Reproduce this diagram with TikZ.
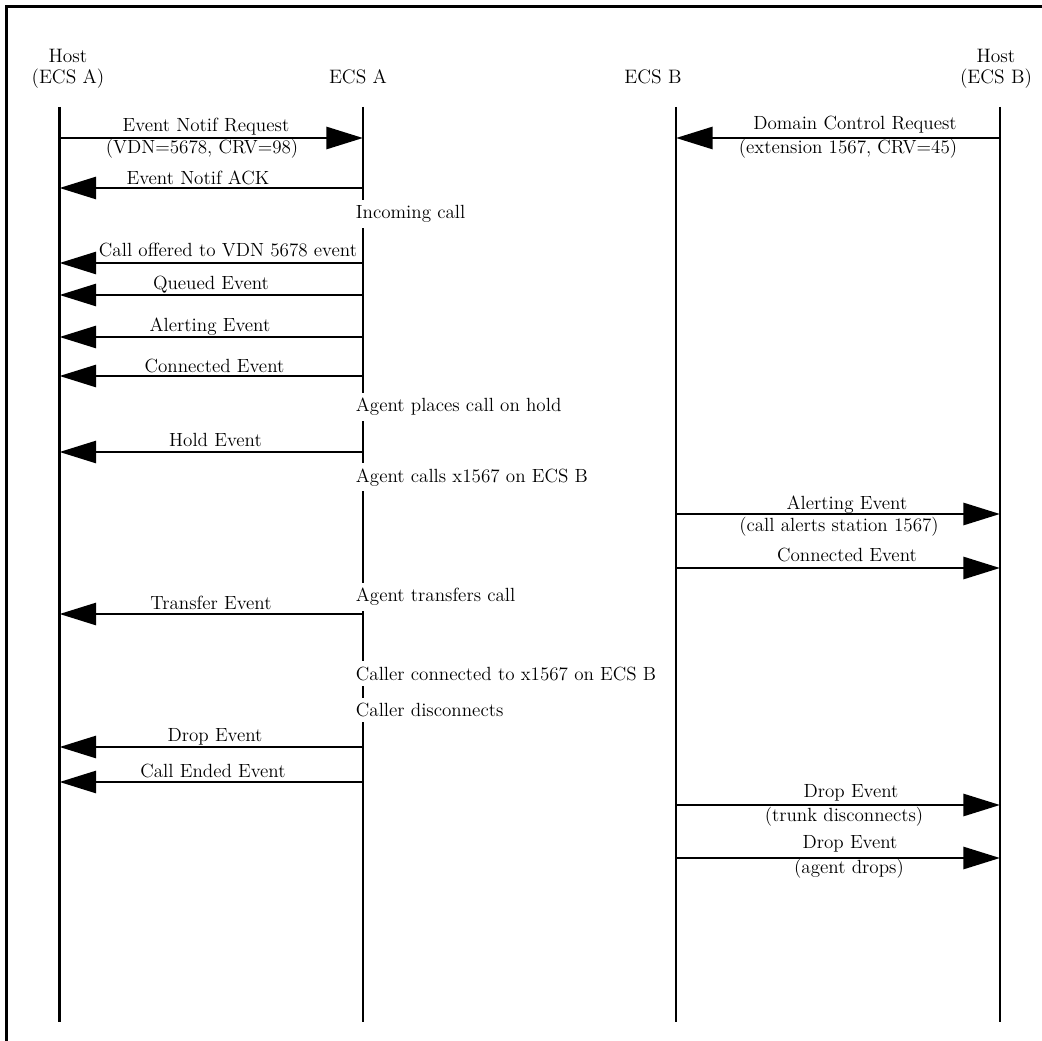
\documentclass[tikz,border=0pt]{standalone}
\usetikzlibrary{arrows.meta}

\tikzset{
  lifeline/.style={line width=2.2pt},
  msg/.style={line width=2.2pt, -{Triangle[length=27.5pt,width=16.5pt]}},
  lbl/.style={anchor=base, inner sep=0pt, font=\fontsize{14.3}{16.5}\selectfont},
  note/.style={anchor=base west, fill=white, inner xsep=2pt, inner ysep=4pt, font=\fontsize{14.3}{16.5}\selectfont},
  head/.style={anchor=base, inner sep=0pt, font=\fontsize{14.6}{16.5}\selectfont}
}

\begin{document}
\begin{tikzpicture}[x=0.75pt, y=-0.75pt]

    \useasboundingbox (0,0) rectangle (1042,1041);

    % 1. Cornice esterna (solo lato sinistro e lato superiore)
    \draw[line width=2.2pt] (6.5,1041) -- (6.5,6.5) -- (1042,6.5);

    % 2. Intestazioni delle quattro colonne
    \node[head] (hostAtop) at (68,63) {Host};
    \node[head] (hostAbot) at (68,84) {(ECS A)};
    \node[head] (ecsAhead) at (358,84) {ECS A};
    \node[head] (ecsBhead) at (653,84) {ECS B};
    \node[head] (hostBtop) at (996,63) {Host};
    \node[head] (hostBbot) at (996,84) {(ECS B)};

    % 3. Linee di vita verticali
    \coordinate (hostA) at (59.5,107);
    \coordinate (ecsA) at (363,107);
    \coordinate (ecsB) at (676,107);
    \coordinate (hostB) at (1000,107);
    \coordinate (end) at (0,1022);
    \draw[lifeline] (hostA) -- (hostA |- end);
    \draw[lifeline] (ecsA) -- (ecsA |- end);
    \draw[lifeline] (ecsB) -- (ecsB |- end);
    \draw[lifeline] (hostB) -- (hostB |- end);

    % 4. Note sulla linea di ECS A (interrompono la linea)
    \node[note] (n1) at (353,219) {Incoming call};
    \node[note] (n2) at (353,411.5) {Agent places call on hold};
    \node[note] (n3) at (353,482) {Agent calls x1567 on ECS B};
    \node[note] (n4) at (353,601.5) {Agent transfers call};
    \node[note] (n5) at (353,680) {Caller connected to x1567 on ECS B};
    \node[note] (n6) at (353,716.5) {Caller disconnects};

    % 5. Quote dei messaggi
    \coordinate (r1) at (0,138);
    \coordinate (r2) at (0,188);
    \coordinate (r3) at (0,263);
    \coordinate (r4) at (0,295);
    \coordinate (r5) at (0,337);
    \coordinate (r6) at (0,376);
    \coordinate (r7) at (0,452);
    \coordinate (r8) at (0,614);
    \coordinate (r9) at (0,747);
    \coordinate (r10) at (0,782);
    \coordinate (r11) at (0,514);
    \coordinate (r12) at (0,568);
    \coordinate (r13) at (0,805);
    \coordinate (r14) at (0,858);

    % 6. Messaggi tra Host (ECS A) e ECS A
    \draw[msg] (hostA |- r1) -- (ecsA |- r1);
    \node[lbl] (m1) at (206,132) {Event Notif Request};
    \node[lbl] (m1b) at (202,154) {(VDN=5678, CRV=98)};

    \draw[msg] (ecsA |- r2) -- (hostA |- r2);
    \node[lbl] (m2) at (198,185) {Event Notif ACK};

    \draw[msg] (ecsA |- r3) -- (hostA |- r3);
    \node[lbl] (m3) at (228,257) {Call offered to VDN 5678 event};

    \draw[msg] (ecsA |- r4) -- (hostA |- r4);
    \node[lbl] (m4) at (211,290) {Queued Event};

    \draw[msg] (ecsA |- r5) -- (hostA |- r5);
    \node[lbl] (m5) at (210,331.5) {Alerting Event};

    \draw[msg] (ecsA |- r6) -- (hostA |- r6);
    \node[lbl] (m6) at (214.5,372.5) {Connected Event};

    \draw[msg] (ecsA |- r7) -- (hostA |- r7);
    \node[lbl] (m7) at (215.5,446) {Hold Event};

    \draw[msg] (ecsA |- r8) -- (hostA |- r8);
    \node[lbl] (m8) at (211,609) {Transfer Event};

    \draw[msg] (ecsA |- r9) -- (hostA |- r9);
    \node[lbl] (m9) at (215,741.5) {Drop Event};

    \draw[msg] (ecsA |- r10) -- (hostA |- r10);
    \node[lbl] (m10) at (213,777) {Call Ended Event};

    % 7. Messaggi tra ECS B e Host (ECS B)
    \draw[msg] (hostB |- r1) -- (ecsB |- r1);
    \node[lbl] (m11) at (855,130) {Domain Control Request};
    \node[lbl] (m11b) at (848,154) {(extension 1567, CRV=45)};

    \draw[msg] (ecsB |- r11) -- (hostB |- r11);
    \node[lbl] (m12) at (847,509.5) {Alerting Event};
    \node[lbl] (m12b) at (839,531.5) {(call alerts station 1567)};

    \draw[msg] (ecsB |- r12) -- (hostB |- r12);
    \node[lbl] (m13) at (847,561.5) {Connected Event};

    \draw[msg] (ecsB |- r13) -- (hostB |- r13);
    \node[lbl] (m14) at (851,797) {Drop Event};
    \node[lbl] (m14b) at (844,821.5) {(trunk disconnects)};

    \draw[msg] (ecsB |- r14) -- (hostB |- r14);
    \node[lbl] (m15) at (850,848) {Drop Event};
    \node[lbl] (m15b) at (849,873) {(agent drops)};

\end{tikzpicture}
\end{document}
